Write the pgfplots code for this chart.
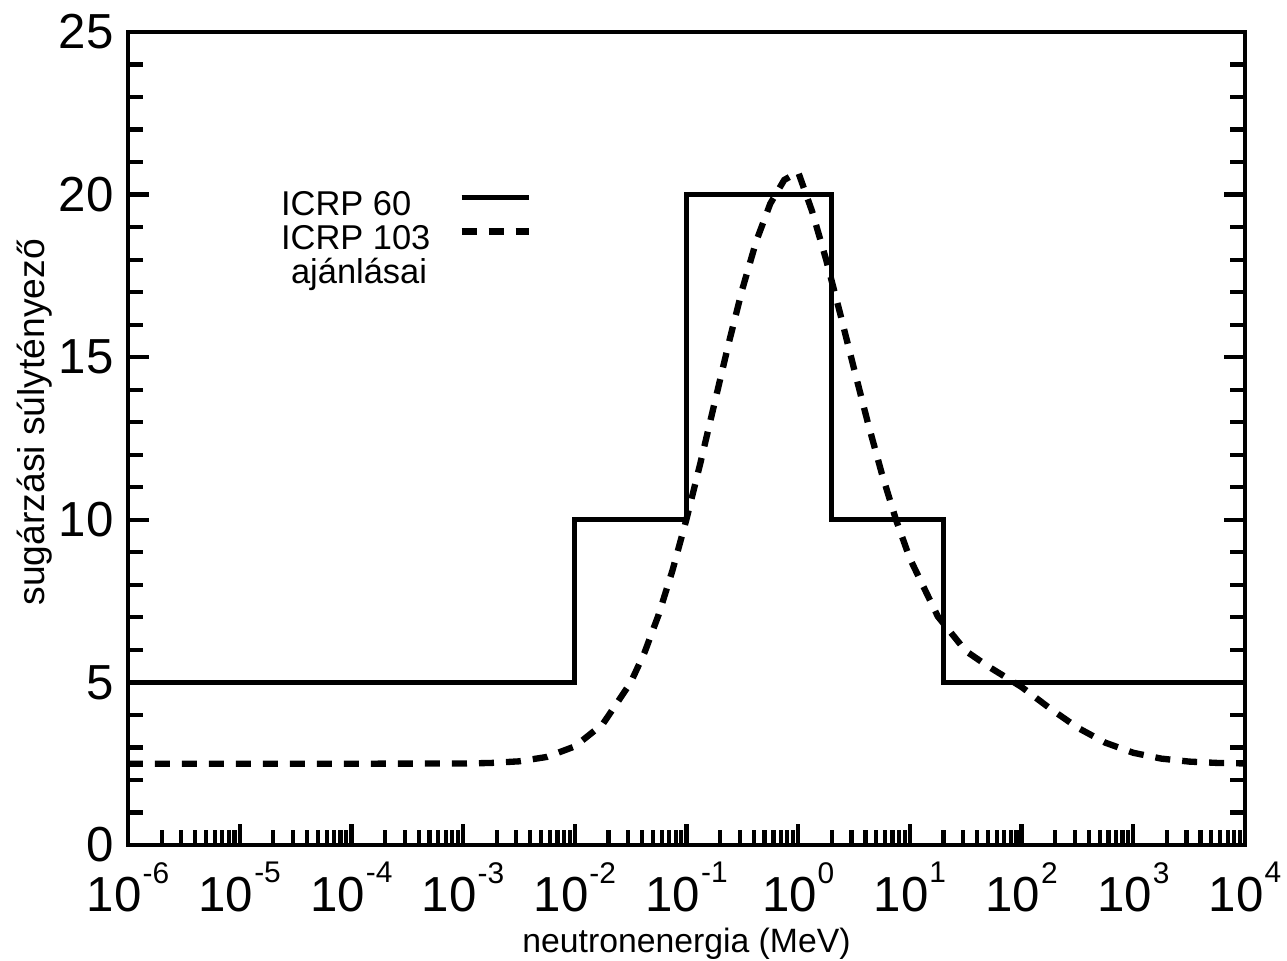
\documentclass[border=0pt]{standalone}
\usepackage{fontspec}
\setmainfont{Liberation Sans}
\usepackage{pgfplots}
\pgfplotsset{compat=1.18}

\newcommand{\ex}[1]{10\kern0.02em\raisebox{0.58em}{\fontsize{8.5}{9}\selectfont #1}}

\begin{document}
\begin{tikzpicture}
\begin{axis}[
    scale only axis,
    width=11.17cm, height=8.13cm,
    xmode=log,
    xmin=1e-6, xmax=1e4,
    ymin=0, ymax=25,
    xtick={1e-6,1e-5,1e-4,1e-3,1e-2,1e-1,1,1e1,1e2,1e3,1e4},
    xticklabels={\ex{-6},\ex{-5},\ex{-4},\ex{-3},\ex{-2},\ex{-1},\ex{0},\ex{1},\ex{2},\ex{3},\ex{4}},
    ytick={0,5,...,25},
    minor y tick num=4,
    xtick pos=bottom,
    ytick pos=both,
    tick align=inside,
    major tick length=0.21cm,
    minor tick length=0.15cm,
    axis line style={line width=1.4pt},
    every tick/.style={black, line width=1.2pt},
    /pgf/number format/assume math mode=true,
    tick label style={font=\fontsize{14}{16}\selectfont},
    xticklabel style={yshift=-0.05cm},
    yticklabel style={xshift=-0.02cm},
    xlabel={neutronenergia (MeV)},
    ylabel={sugárzási súlytényező},
    xlabel style={font=\fontsize{9.6}{11}\selectfont, yshift=0.08cm},
    ylabel style={font=\fontsize{10.6}{12}\selectfont, at={(ticklabel cs:0.52)}, yshift=-0.18cm},
    legend style={draw=none, fill=none, at={(0.127,0.815)}, anchor=north west,
        font=\fontsize{9.8}{11}\selectfont, row sep=0.03cm,
        nodes={inner sep=0pt, text height=0.25cm, text depth=0.06cm},
        /tikz/every odd column/.append style={column sep=0.28cm}},
    legend plot pos=right,
    legend cell align=left,
    legend image code/.code={\draw[#1] (0cm,0.08cm) -- (0.67cm,0.08cm);},
]
% ICRP 60: step function
\addplot[black, line width=1.5pt, line join=miter] coordinates {
    (1e-6,5) (0.01,5) (0.01,10) (0.1,10) (0.1,20) (2,20) (2,10) (20,10) (20,5) (1e4,5)
};
\addlegendentry{ICRP 60}
% ICRP 103: continuous curve
\addplot[black, line width=1.8pt, dash pattern=on 0.15cm off 0.12cm] coordinates {
    (1e-6,2.500) (1e-5,2.500) (1e-4,2.500) (1e-3,2.506)
    (0.0017783,2.523) (0.0031623,2.573) (0.0056234,2.708) (0.01,3.031)
    (0.017783,3.715) (0.031623,4.993) (0.042170,5.924) (0.056234,7.076)
    (0.074989,8.448) (0.1,10.022) (0.13335,11.753) (0.17783,13.572)
    (0.23714,15.387) (0.31623,17.093) (0.42170,18.573) (0.56234,19.722)
    (0.74989,20.451) (1,20.692) (1.3335,19.481) (1.7783,18.000)
    (2.3714,16.352) (3.1623,14.643) (4.2170,12.968) (5.6234,11.405)
    (7.4989,10.008) (10,8.809) (17.783,7.029) (31.623,5.967) (50,5.498)
    (100,4.859) (177.83,4.211) (316.23,3.611) (562.34,3.146) (1000,2.836)
    (1778.3,2.657) (3162.3,2.565) (5623.4,2.524) (1e4,2.508)
};
\addlegendentry{ICRP 103}
\addlegendimage{empty legend}
\addlegendentry{\hspace{0.1cm}ajánlásai}
\end{axis}
\pgfresetboundingbox
\path[use as bounding box] (-1.28cm,-1.15cm) rectangle (11.59cm,8.45cm);
\end{tikzpicture}
\end{document}
